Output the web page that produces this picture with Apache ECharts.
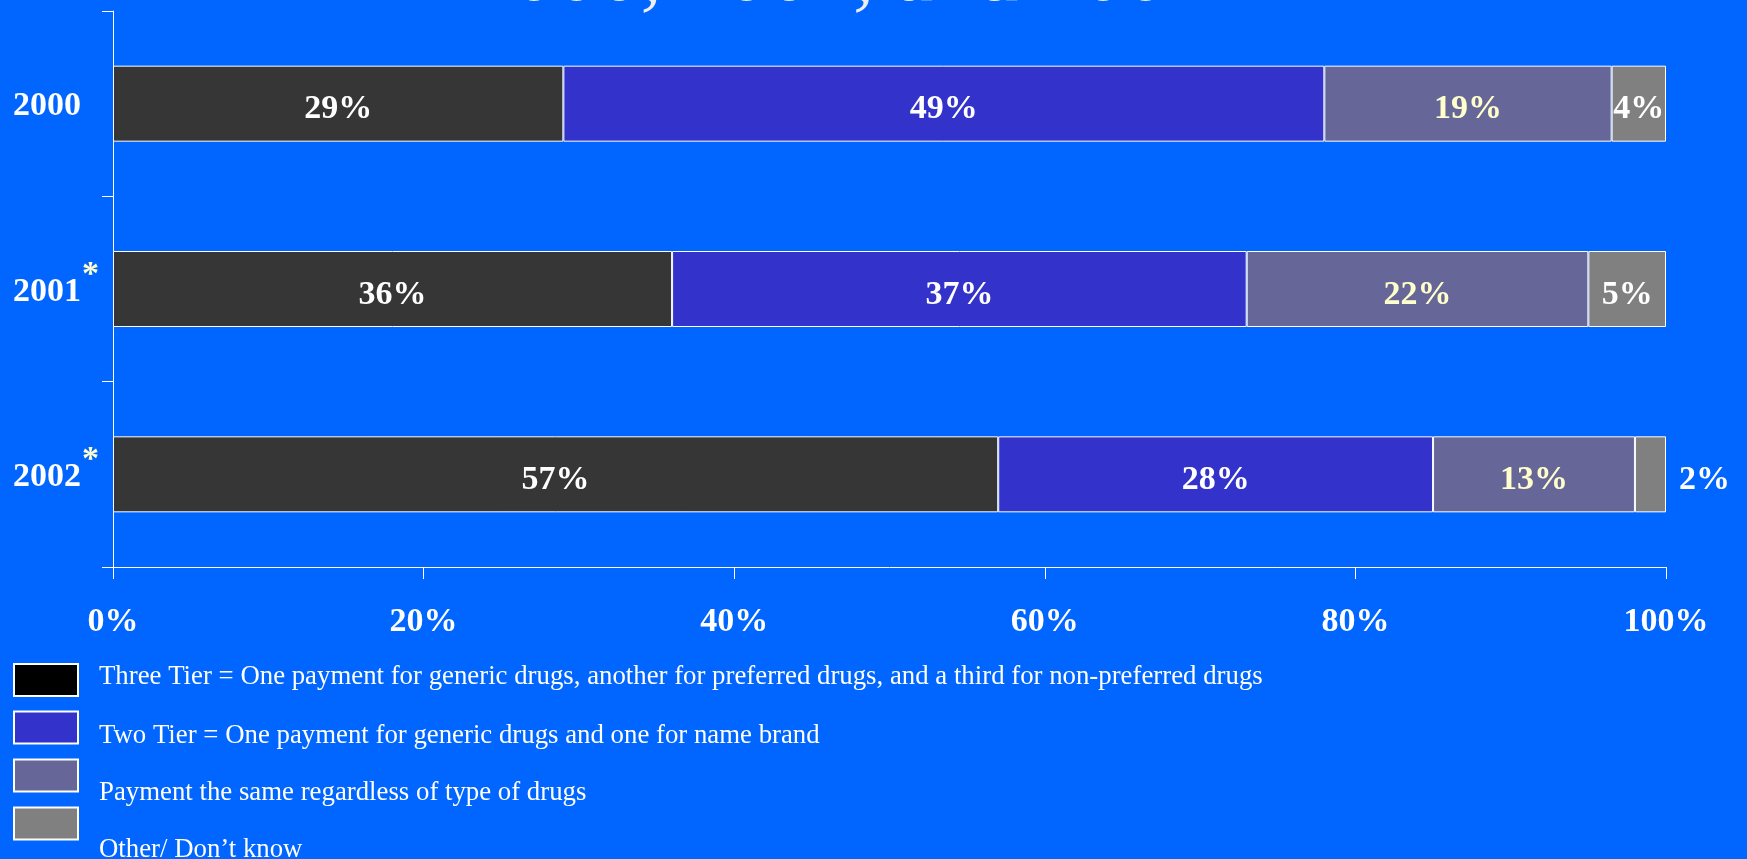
<!DOCTYPE html>
<html>
<head>
<meta charset="utf-8">
<script src="https://cdn.jsdelivr.net/npm/echarts@6/dist/echarts.min.js"></script>
<style>
  html, body { margin: 0; padding: 0; background: #0066FF; }
  #chart { width: 1747px; height: 859px; }
</style>
</head>
<body>
<div id="chart"></div>
<script>
var years = ['2000', '2001', '2002'];
var starredYears = ['2001', '2002'];
var seriesNames = [
    'Three Tier = One payment for generic drugs, another for preferred drugs, and a third for non-preferred drugs',
    'Two Tier = One payment for generic drugs and one for name brand',
    'Payment the same regardless of type of drugs',
    'Other/ Don\u2019t know'
];
// shares per year, in percent (2000, 2001, 2002)
var threeTier = [29, 36, 57];
var twoTier = [49, 37, 28];
var sameTier = [18.5, 22, 13];
var otherTier = [3.5, 5, 2];
var xTicks = [0, 20, 40, 60, 80, 100];

var barColors = ['#363636', '#3333CC', '#666699', '#808080'];
var legendColors = ['#000000', '#3333CC', '#666699', '#808080'];
var labelColors = ['#ffffff', '#ffffff', '#FFFFCC', '#ffffff'];
var serif = '"Liberation Serif", "Times New Roman", serif';

var myChart = echarts.init(document.getElementById('chart'));

var allValues = [threeTier, twoTier, sameTier, otherTier];

var series = allValues.map(function (vals, i) {
    return {
        name: seriesNames[i],
        type: 'bar',
        stack: 'total',
        barWidth: 76,
        itemStyle: { color: barColors[i], borderColor: '#ffffff', borderWidth: 1 },
        label: {
            show: true,
            position: 'inside',
            offset: [0, 6],
            color: labelColors[i],
            fontFamily: serif,
            fontWeight: 'bold',
            fontSize: 34,
            formatter: function (p) { return Math.round(p.value) + '%'; }
        },
        data: vals.map(function (v) {
            if (v < 3) {
                return { value: v, label: { position: 'right', distance: 13, color: '#ffffff' } };
            }
            return v;
        })
    };
});

// text of each legend row sits a bit lower/higher than its swatch
var textShift = [-3, 8, 17, 26];
var swatchTop = [664, 712, 760, 808];
var legends = seriesNames.map(function (name, i) {
    var d = textShift[i];
    var pad = d > 0 ? [2 * d, 0, 0, 16] : [0, 0, -2 * d, 16];
    return {
        left: 13,
        top: swatchTop[i] - Math.max(Math.abs(d) - 2, 0),
        padding: 0,
        itemWidth: 64,
        itemHeight: 32,
        selectedMode: false,
        icon: 'rect',
        data: [{
            name: name,
            itemStyle: { color: legendColors[i], borderColor: '#ffffff', borderWidth: 2 }
        }],
        formatter: '{t|{name}}',
        textStyle: {
            color: '#ffffff',
            fontFamily: serif,
            fontSize: 26.8,
            rich: {
                t: {
                    color: '#ffffff',
                    fontFamily: serif,
                    fontSize: 26.8,
                    lineHeight: 28,
                    padding: pad
                }
            }
        }
    };
});

var option = {
    backgroundColor: '#0066FF',
    animation: false,
    graphic: [{
        type: 'text',
        x: 840,
        y: -22,
        style: {
            text: '2000, 2001, and 2002',
            font: '85px ' + serif,
            fill: '#EEEEEE',
            align: 'center',
            verticalAlign: 'middle'
        }
    }],
    legend: legends,
    grid: { left: 113, right: 81, top: 11, bottom: 292 },
    xAxis: {
        type: 'value',
        min: xTicks[0],
        max: xTicks[xTicks.length - 1],
        interval: 20,
        axisLine: { show: true, lineStyle: { color: '#ffffff', width: 1 } },
        axisTick: { show: true, length: 12, lineStyle: { color: '#ffffff' } },
        splitLine: { show: false },
        axisLabel: {
            margin: 38,
            color: '#ffffff',
            fontFamily: serif,
            fontWeight: 'bold',
            fontSize: 34,
            formatter: '{value}%'
        }
    },
    yAxis: {
        type: 'category',
        inverse: true,
        data: years,
        axisLine: { show: true, lineStyle: { color: '#ffffff', width: 1 } },
        axisTick: { show: true, length: 11, lineStyle: { color: '#ffffff' } },
        axisLabel: {
            align: 'left',
            margin: 100,
            padding: [6, 0, 0, 0],
            formatter: function (v) {
                return starredYears.indexOf(v) >= 0 ? '{y|' + v + '}{s|*}' : '{y|' + v + '}';
            },
            rich: {
                y: { color: '#ffffff', fontFamily: serif, fontWeight: 'bold', fontSize: 34, lineHeight: 36 },
                s: { color: '#FFFFCC', fontFamily: serif, fontWeight: 'bold', fontSize: 34, padding: [0, 0, 34, 1] }
            }
        }
    },
    series: series
};
myChart.setOption(option);
</script>
</body>
</html>
